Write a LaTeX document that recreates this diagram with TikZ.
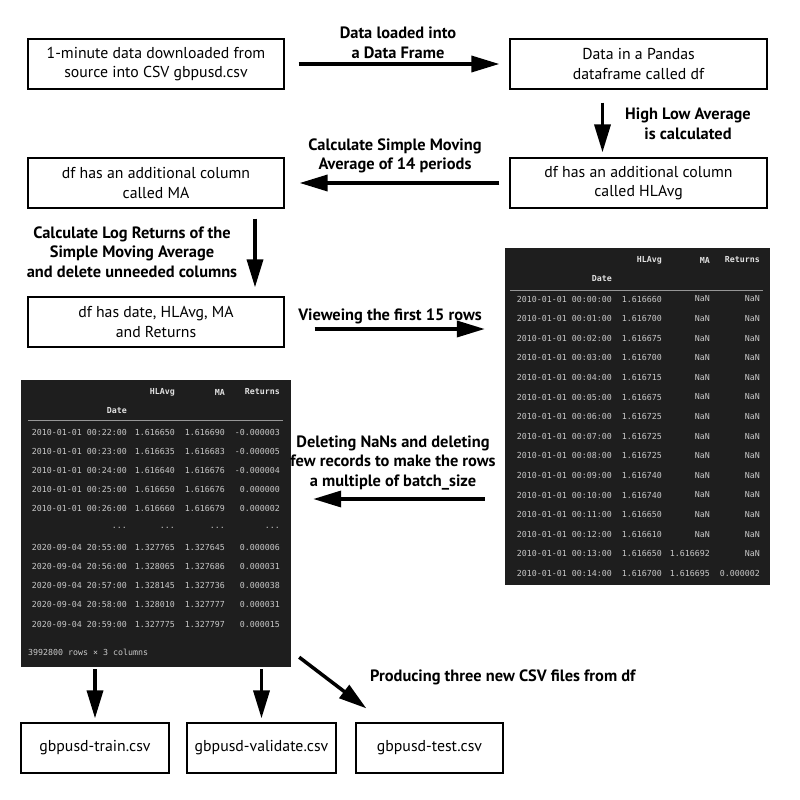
\documentclass[tikz,border=0pt]{standalone}
\usepackage{fontspec}
\setmainfont{PT Sans}
\newfontfamily\codefont{DejaVu Sans Mono}
\usetikzlibrary{arrows.meta, calc, positioning}
\definecolor{nbdark}{RGB}{30,30,30}
\definecolor{nbtext}{RGB}{200,200,200}
\definecolor{nbhead}{RGB}{225,225,225}
\definecolor{nbrule}{RGB}{150,150,150}
\newcommand\elide{...}

\begin{document}
\begin{tikzpicture}[x=1pt, y=-1pt,
  stepbox/.style={draw, line width=1.2pt, align=center, inner sep=0pt, minimum height=50pt, font=\fontsize{15.8}{19.5}\selectfont},
  flow/.style={line width=3.5pt, -{Triangle[length=28pt, width=16pt]}},
  lbl/.style={align=center, inner sep=0pt, font=\fontsize{16.4}{19.5}\selectfont\bfseries},
  tab/.style={fill=nbdark, inner sep=0pt},
  cell/.style={text=nbtext, inner sep=0pt, anchor=east, font=\codefont\fontsize{8.3}{9}\selectfont},
  hcell/.style={cell, text=nbhead, font=\codefont\bfseries\fontsize{8.3}{9}\selectfont}]
\useasboundingbox (0,0) rectangle (800,800);
% steps
\node[stepbox, minimum width=256pt] (src) at (156,64) {1-minute data downloaded from\\source into CSV gbpusd.csv};
\node[stepbox, minimum width=257pt] (pandas) at (638.5,64) {Data in a Pandas\\dataframe called df};
\node[stepbox, minimum width=257pt] (hlavg) at (638.5,183) {df has an additional column\\called HLAvg};
\node[stepbox, minimum width=256pt] (ma) at (156,183) {df has an additional column\\called MA};
\node[stepbox, minimum width=256pt] (ret) at (156,322) {df has date, HLAvg, MA\\and Returns};
\node[stepbox, minimum width=148pt] (train) at (95,748) {gbpusd-train.csv};
\node[stepbox, minimum width=149pt] (valid) at (261.5,748) {gbpusd-validate.csv};
\node[stepbox, minimum width=147pt] (test) at (429.5,748) {gbpusd-test.csv};
% tables
\node[tab, minimum width=265pt, minimum height=337pt] (rawtab) at (637.5,416.5) {};
\node[tab, minimum width=270pt, minimum height=287pt] (cleantab) at (156,523.5) {};
% first 15 rows
\node[hcell] (raw-hl) at (662,260) {HLAvg};
\node[hcell] (raw-ma) at (710,260) {MA};
\node[hcell] (raw-rt) at (760,260) {Returns};
\node[hcell] (raw-date) at (612,279) {Date};
\draw[nbrule, line width=0.8pt] (510,290) -- (763,290);
\foreach \m/\hl/\mv/\rv [count=\i from 0] in {00/1.616660/NaN/NaN, 01/1.616700/NaN/NaN, 02/1.616675/NaN/NaN,
  03/1.616700/NaN/NaN, 04/1.616715/NaN/NaN, 05/1.616675/NaN/NaN, 06/1.616725/NaN/NaN, 07/1.616725/NaN/NaN,
  08/1.616725/NaN/NaN, 09/1.616740/NaN/NaN, 10/1.616740/NaN/NaN, 11/1.616650/NaN/NaN, 12/1.616610/NaN/NaN,
  13/1.616650/1.616692/NaN, 14/1.616700/1.616695/0.000002}
{
  \node[cell] (raw-\i-d) at (612,{299+19.6*\i}) {2010-01-01 00:\m:00};
  \node[cell] (raw-\i-h) at (662,{299+19.6*\i}) {\hl};
  \node[cell] (raw-\i-m) at (710,{299+19.6*\i}) {\mv};
  \node[cell] (raw-\i-r) at (760,{299+19.6*\i}) {\rv};
}
% cleaned frame
\node[hcell] (cl-hl) at (175,392) {HLAvg};
\node[hcell] (cl-ma) at (225,392) {MA};
\node[hcell] (cl-rt) at (280,392) {Returns};
\node[hcell] (cl-date) at (127,411) {Date};
\draw[nbrule, line width=0.8pt] (28,420) -- (283,420);
\foreach \d/\hl/\mv/\rv [count=\i from 0] in {2010-01-01 00:22:00/1.616650/1.616690/-0.000003,
  2010-01-01 00:23:00/1.616635/1.616683/-0.000005, 2010-01-01 00:24:00/1.616640/1.616676/-0.000004,
  2010-01-01 00:25:00/1.616650/1.616676/0.000000, 2010-01-01 00:26:00/1.616660/1.616679/0.000002,
  \elide/\elide/\elide/\elide, 2020-09-04 20:55:00/1.327765/1.327645/0.000006,
  2020-09-04 20:56:00/1.328065/1.327686/0.000031, 2020-09-04 20:57:00/1.328145/1.327736/0.000038,
  2020-09-04 20:58:00/1.328010/1.327777/0.000031, 2020-09-04 20:59:00/1.327775/1.327797/0.000015}
{
  \node[cell] (cl-\i-d) at (127,{432+19.2*\i}) {\d};
  \node[cell] (cl-\i-h) at (175,{432+19.2*\i}) {\hl};
  \node[cell] (cl-\i-m) at (225,{432+19.2*\i}) {\mv};
  \node[cell] (cl-\i-r) at (280,{432+19.2*\i}) {\rv};
}
\node[cell, anchor=west] (cl-size) at (28,652) {3992800 rows × 3 columns};
% arrows
\draw[flow] ($(src.east)+(14,0)$) -- ($(pandas.west)+(-10,0)$);
\draw[flow] ($(pandas.south)+(-36,13)$) -- ($(hlavg.north)+(-36,-5)$);
\draw[flow] ($(hlavg.west)+(-10,0)$) -- ($(ma.east)+(15,0)$);
\draw[flow] ($(ma.south)+(99,10)$) -- ($(ret.north)+(99,-9)$);
\draw[flow] ($(ret.east)+(30,7)$) -- ($(rawtab.west |- ret.east)+(-20,7)$);
\draw[flow] ($(rawtab.west)+(-20,82.5)$) -- ($(cleantab.east |- rawtab.west)+(22,82.5)$);
\draw[flow] ($(cleantab.south -| train.north)+(0,2)$) -- ($(train.north)+(0,-4)$);
\draw[flow] ($(cleantab.south -| valid.north)+(0,2)$) -- ($(valid.north)+(0,-4)$);
\draw[flow] ($(cleantab.south east)+(8,-10)$) -- ($(test.north west)+(11,-14)$);
% labels
\node[lbl] (loadlbl) at (398,43) {Data loaded into\\a Data Frame};
\node[lbl] (hllbl) at (688,124) {High Low Average\\is calculated};
\node[lbl] (smalbl) at (395,156) {Calculate Simple Moving\\Average of 14 periods};
\node[lbl] (loglbl) at (132,252) {Calculate Log Returns of the\\Simple Moving Average\\and delete unneeded columns};
\node[lbl] (viewlbl) at (390,316) {Vieweing the first 15 rows};
\node[lbl] (nanlbl) at (393,463) {Deleting NaNs and deleting\\few records to make the rows\\a multiple of batch\_size};
\node[lbl, anchor=west] (csvlbl) at (370,677) {Producing three new CSV files from df};
\end{tikzpicture}
\end{document}
